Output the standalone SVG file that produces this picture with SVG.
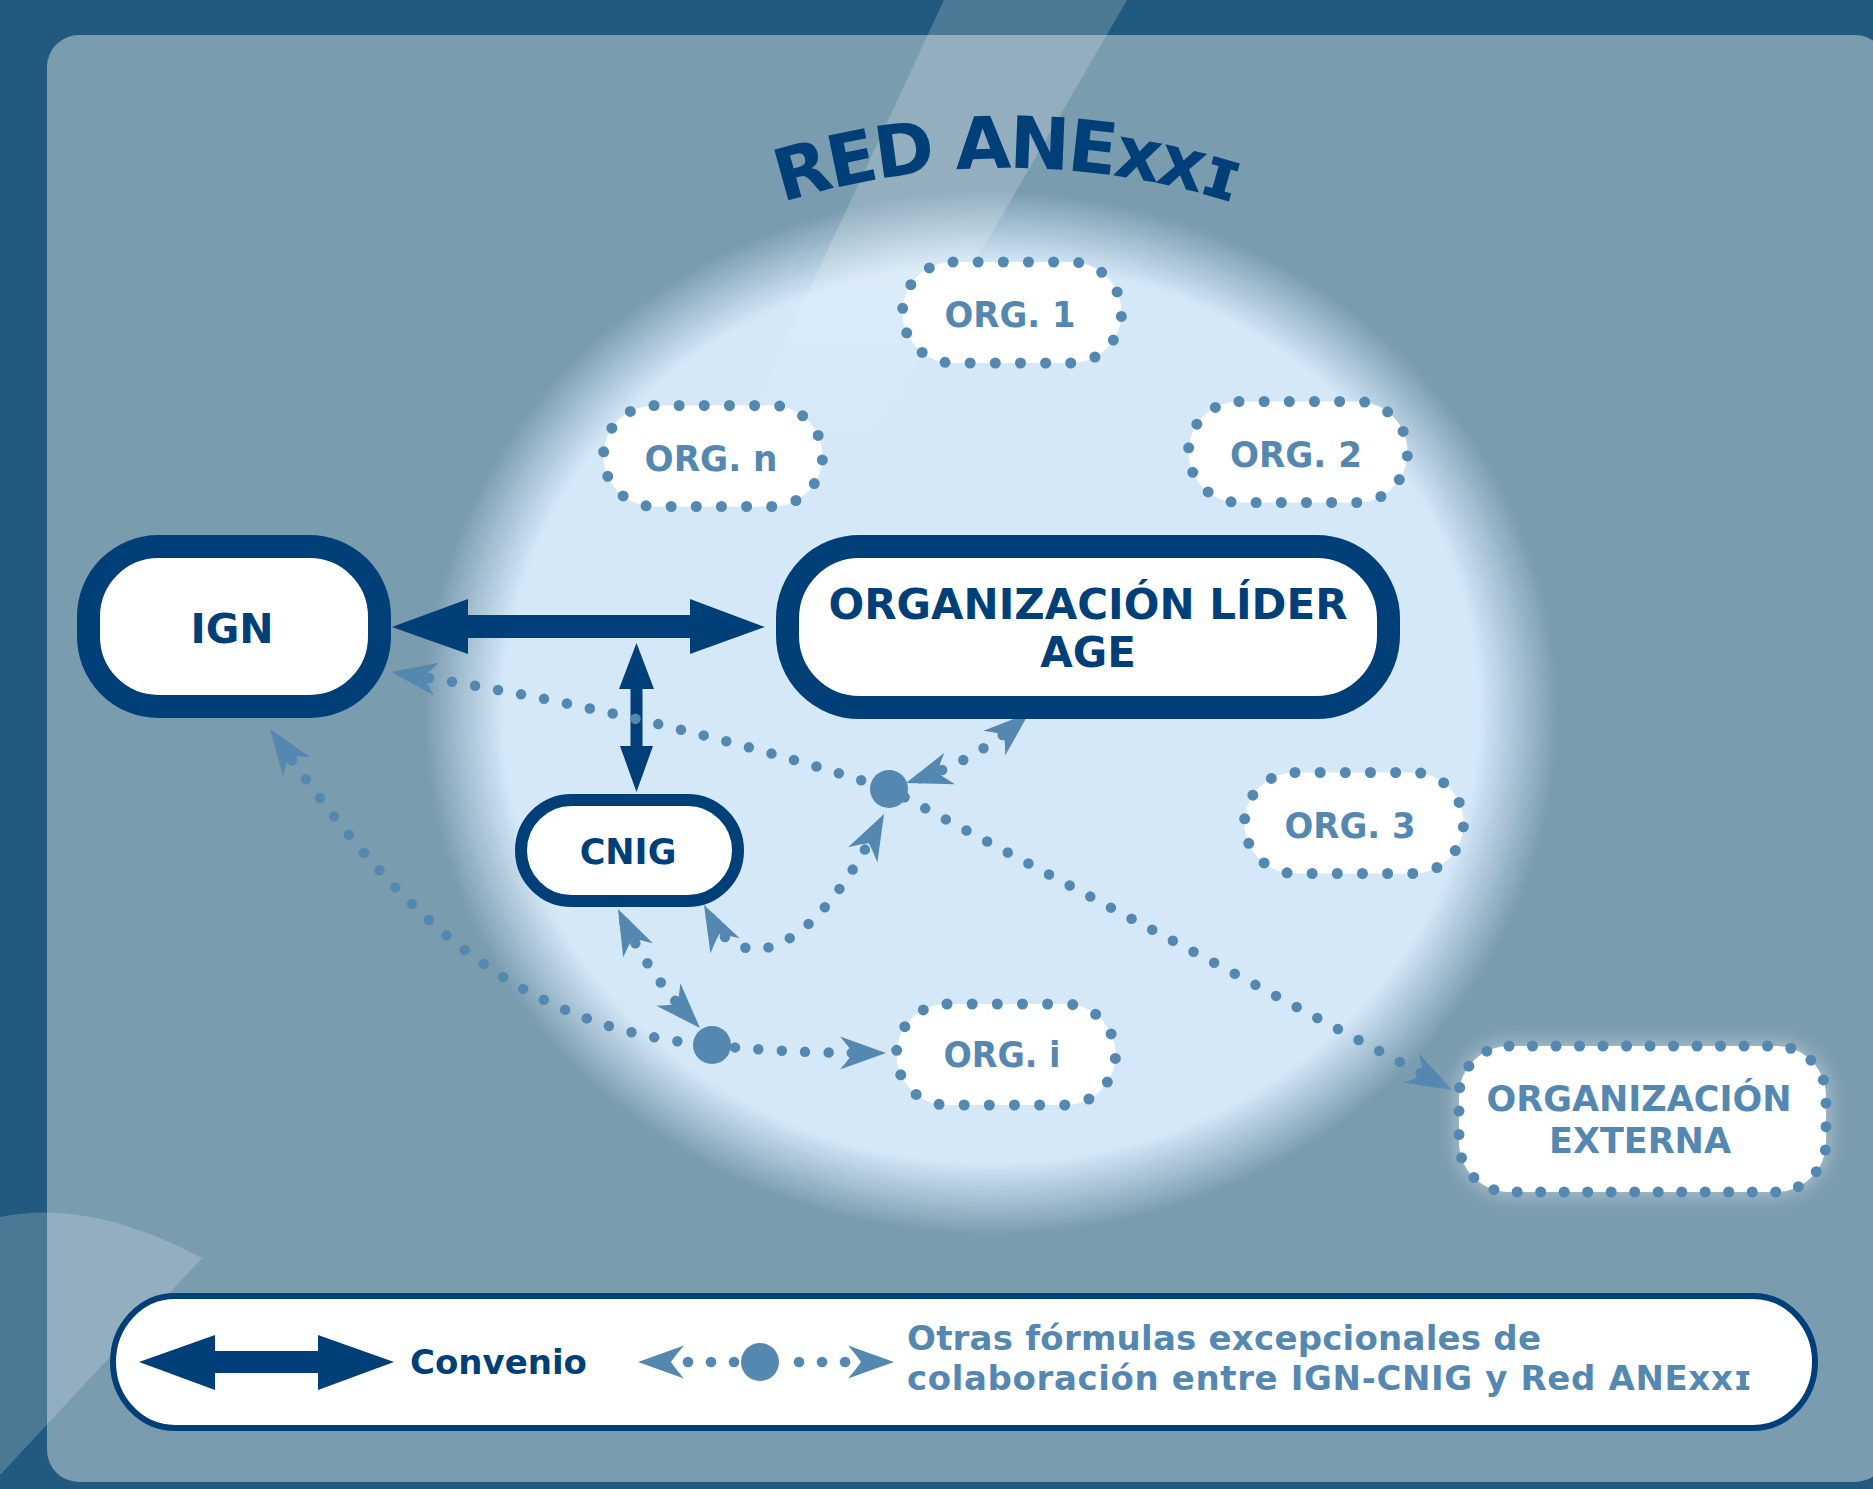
<svg xmlns="http://www.w3.org/2000/svg" width="1873" height="1489" viewBox="0 0 1873 1489">
<defs>
<style>
.t{font-family:"DejaVu Sans","Verdana","Liberation Sans",sans-serif;font-weight:bold;}
.nav{fill:#003f78;}
.lt{fill:#5588b1;}
.box{fill:#ffffff;stroke:#003f78;}
.org{fill:#ffffff;stroke:#5588b1;stroke-width:11;stroke-linecap:round;stroke-dasharray:0 25.15;}
.dot{fill:none;stroke:#5588b1;stroke-width:10.5;stroke-linecap:round;stroke-dasharray:0 23.4;}
.two{marker-start:url(#ah);marker-end:url(#ah);}
.hub{fill:#5588b1;}
</style>
<radialGradient id="glow" cx="0.5" cy="0.5" r="0.5">
<stop offset="0" stop-color="#d4e8f8"/>
<stop offset="0.86" stop-color="#d4e8f8"/>
<stop offset="1" stop-color="#d4e8f8" stop-opacity="0"/>
</radialGradient>
<linearGradient id="stripe" gradientUnits="userSpaceOnUse" x1="0" y1="0" x2="0" y2="460">
<stop offset="0.55" stop-color="#ffffff" stop-opacity="0.19"/>
<stop offset="1" stop-color="#ffffff" stop-opacity="0"/>
</linearGradient>
<filter id="halo" x="-20%" y="-30%" width="140%" height="160%">
<feGaussianBlur stdDeviation="9"/>
</filter>
<marker id="ah" viewBox="-35 -20 52 40" refX="0" refY="0" markerWidth="52" markerHeight="40" markerUnits="userSpaceOnUse" orient="auto-start-reverse" overflow="visible">
<path d="M15,0 L-31,-16.5 Q-22,-6 -18,0 Q-22,6 -31,16.5 Z" fill="#5588b1"/>
</marker>
<path id="arc" d="M 257 918 A 750 750 0 0 1 1757 918"/>
</defs>

<!-- background -->
<rect x="0" y="0" width="1873" height="1489" fill="#215a7e"/>
<rect x="47" y="35" width="1840" height="1447" rx="32" ry="32" fill="#7a9caf"/>
<path d="M0,1217 Q90,1198 202,1258 L0,1475 Z" fill="#ffffff" fill-opacity="0.19"/>
<ellipse cx="991" cy="713" rx="567" ry="522" fill="url(#glow)"/>
<polygon points="944,0 1127,0 860,460 730,460" fill="url(#stripe)"/>

<!-- title -->
<text class="t nav" font-size="72" letter-spacing="-3"><textPath href="#arc" startOffset="50%" text-anchor="middle">RED ANExxɪ</textPath></text>

<!-- connectors -->
<g id="connectors">
<polygon class="nav" points="392,627 468,599 468,615 690,615 690,599 765,627 690,654 690,638 468,638 468,654"/>
<polygon class="nav" points="636.5,643 654,689 642.5,689 642.5,746 653,746 636.5,792 620,746 630.5,746 630.5,689 619,689"/>
<path class="dot two" d="M405.8,674.3 Q650,712 889,789 L1438.8,1082.9"/>
<path class="dot two" d="M920.2,778.3 Q975,760 1017.7,722.8"/>
<path class="dot two" d="M710.9,918.3 C735,965 800,975 877.1,827.3"/>
<path class="dot" marker-start="url(#ah)" d="M278.6,741.3 C380,885 500,1030 712,1045"/>
<path class="dot" marker-end="url(#ah)" d="M712,1045 Q780,1053 871,1053"/>
<path class="dot two" d="M624.5,922.5 Q650,975 689.7,1017.1"/>
<circle class="hub" cx="889" cy="789" r="19"/>
<circle class="hub" cx="712" cy="1045" r="19"/>
</g>

<!-- nodes -->
<g id="node-ign">
<rect class="box" x="88.5" y="546.5" width="291" height="160" rx="70" ry="70" stroke-width="23"/>
<text class="t nav" x="232" y="643" font-size="41" text-anchor="middle">IGN</text>
</g>
<g id="node-lider">
<rect class="box" x="787.5" y="546.5" width="601" height="161" rx="72" ry="72" stroke-width="23"/>
<text class="t nav" x="1088" y="619" font-size="42" text-anchor="middle">ORGANIZACIÓN LÍDER</text>
<text class="t nav" x="1088" y="667" font-size="42" text-anchor="middle">AGE</text>
</g>
<g id="node-cnig">
<rect class="box" x="521" y="800" width="217" height="101" rx="50.5" ry="50.5" stroke-width="12"/>
<text class="t nav" x="628" y="864" font-size="35" text-anchor="middle">CNIG</text>
</g>
<g id="node-org1">
<rect class="org" x="902.5" y="262" width="219" height="101" rx="50.5" ry="50.5"/>
<text class="t lt" x="1010" y="327" font-size="36" text-anchor="middle" textLength="131" lengthAdjust="spacingAndGlyphs">ORG. 1</text>
</g>
<g id="node-org2">
<rect class="org" x="1188.5" y="401.5" width="219" height="101" rx="50.5" ry="50.5"/>
<text class="t lt" x="1296" y="467" font-size="36" text-anchor="middle" textLength="132" lengthAdjust="spacingAndGlyphs">ORG. 2</text>
</g>
<g id="node-orgn">
<rect class="org" x="603.5" y="405.5" width="219" height="101" rx="50.5" ry="50.5"/>
<text class="t lt" x="711" y="471" font-size="36" text-anchor="middle" textLength="133" lengthAdjust="spacingAndGlyphs">ORG. n</text>
</g>
<g id="node-org3">
<rect class="org" x="1244.5" y="772.5" width="219" height="101" rx="50.5" ry="50.5"/>
<text class="t lt" x="1350" y="838" font-size="36" text-anchor="middle" textLength="131" lengthAdjust="spacingAndGlyphs">ORG. 3</text>
</g>
<g id="node-orgi">
<rect class="org" x="896.5" y="1004" width="219" height="101" rx="50.5" ry="50.5"/>
<text class="t lt" x="1002" y="1067" font-size="36" text-anchor="middle" textLength="117" lengthAdjust="spacingAndGlyphs">ORG. i</text>
</g>
<g id="node-externa">
<rect x="1455" y="1042" width="375" height="154" rx="55" fill="#ffffff" fill-opacity="0.35" filter="url(#halo)"/>
<rect class="org" x="1459" y="1046" width="367" height="146" rx="50" ry="50" style="stroke-dasharray:0 23.505"/>
<text class="t lt" x="1639" y="1111" font-size="35" text-anchor="middle">ORGANIZACIÓN</text>
<text class="t lt" x="1640" y="1153" font-size="35" text-anchor="middle">EXTERNA</text>
</g>

<!-- legend -->
<g id="legend">
<rect x="113" y="1296" width="1702" height="132" rx="62" ry="66" fill="#ffffff" stroke="#003f78" stroke-width="6"/>
<polygon class="nav" points="139,1362 215,1335 215,1351 318,1351 318,1335 394,1362 318,1390 318,1373 215,1373 215,1390"/>
<text class="t nav" x="410" y="1374" font-size="34">Convenio</text>
<path class="two" fill="none" stroke="none" d="M653,1362 L879,1362"/>
<circle class="hub" cx="688" cy="1362" r="5.3"/>
<circle class="hub" cx="711" cy="1362" r="5.3"/>
<circle class="hub" cx="734" cy="1362" r="5.3"/>
<circle class="hub" cx="760" cy="1362" r="19"/>
<circle class="hub" cx="799" cy="1362" r="5.3"/>
<circle class="hub" cx="822" cy="1362" r="5.3"/>
<circle class="hub" cx="845" cy="1362" r="5.3"/>
<text class="t lt" x="907" y="1350" font-size="34" textLength="634" lengthAdjust="spacing">Otras fórmulas excepcionales de</text>
<text class="t lt" x="907" y="1390" font-size="34" textLength="845" lengthAdjust="spacing">colaboración entre IGN-CNIG y Red ANExxɪ</text>
</g>
</svg>
